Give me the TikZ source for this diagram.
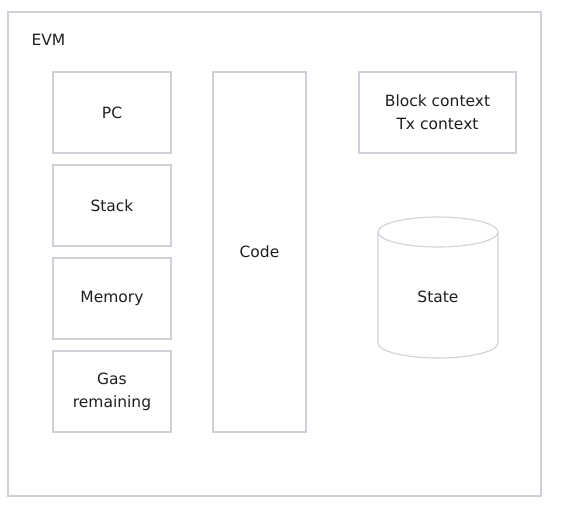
\documentclass[tikz,border=0pt]{standalone}
\usepackage{fontspec}
\setmainfont{DejaVu Sans}
\usepackage{tikz}
\usetikzlibrary{positioning}
\definecolor{edgegray}{HTML}{CDD1D8}
\definecolor{inkgray}{HTML}{1E1E1E}
\tikzset{%
  evm/.style = {
    x=1pt, y=1pt,
    every node/.style = {font=\fontsize{15.5}{23}\selectfont, text=inkgray},
    part/.style = {shape=rectangle, draw=edgegray, line width=1.1pt,
      align=center, inner sep=0pt, outer sep=0pt,
      minimum width=118pt, minimum height=81pt},
    drum/.style = {draw=edgegray, line width=1.1pt}
  }
}

\begin{document}
\begin{tikzpicture}[evm]
  \useasboundingbox (0,0) rectangle (562,-511);
  \node[draw=edgegray, line width=1.1pt, minimum width=533pt, minimum height=484pt,
        inner sep=0pt] (outer) at (274.5,-254) {};
  \node[anchor=base west] (label) at (28,-46) {EVM};

  \node[part] (pc) at (112,-112.5) {PC};
  \node[part, below=12pt of pc] (stack) {Stack};
  \node[part, below=12pt of stack] (memory) {Memory};
  \node[part, below=12pt of memory] (gas) {Gas\\remaining};

  \node[part, minimum width=93pt, minimum height=360pt] (code) at (259.5,-252) {Code};
  \node[part, minimum width=157pt] (context) at (437.5,-112.5) {Block context\\Tx context};

  % state store as a drum
  \node (state) at (438,-297) {State};
  \draw[drum] (438,-232) ellipse [x radius=60, y radius=15];
  \draw[drum] (378,-232) -- (378,-343)
    arc[start angle=180, end angle=360, x radius=60, y radius=15] -- (498,-232);
\end{tikzpicture}
\end{document}
